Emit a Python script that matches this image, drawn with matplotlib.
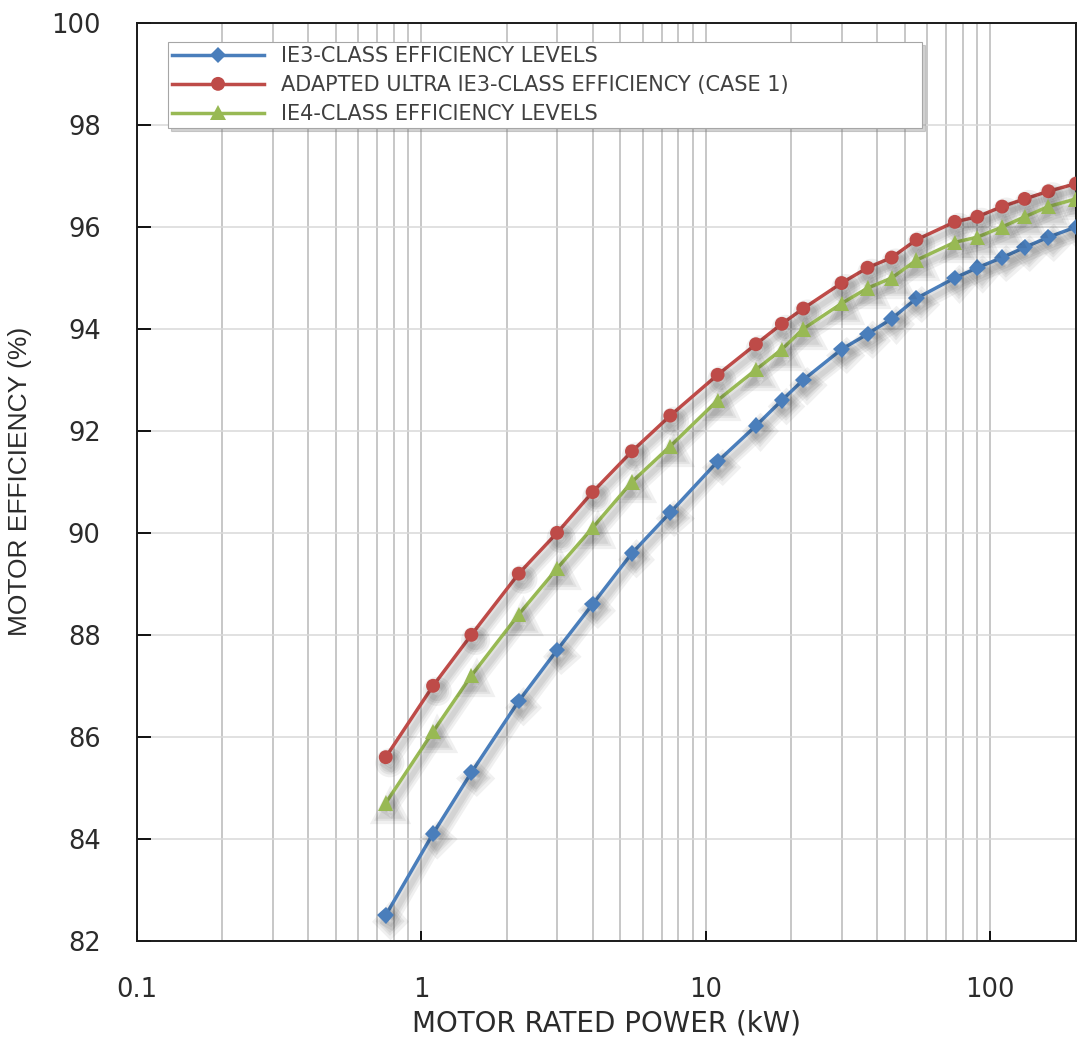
import matplotlib
matplotlib.use("Agg")
import matplotlib.pyplot as plt
import matplotlib.patheffects as pe
from matplotlib.ticker import FixedLocator, LogLocator, NullFormatter

# Standard motor ratings (kW) and full-load efficiencies (%)
power_kw = [0.75, 1.1, 1.5, 2.2, 3, 4, 5.5, 7.5, 11, 15, 18.5, 22, 30, 37,
            45, 55, 75, 90, 110, 132, 160, 200]
ie3_eff = [82.5, 84.1, 85.3, 86.7, 87.7, 88.6, 89.6, 90.4, 91.4, 92.1, 92.6,
           93.0, 93.6, 93.9, 94.2, 94.6, 95.0, 95.2, 95.4, 95.6, 95.8, 96.0]
ultra_ie3_eff = [85.6, 87.0, 88.0, 89.2, 90.0, 90.8, 91.6, 92.3, 93.1, 93.7,
                 94.1, 94.4, 94.9, 95.2, 95.4, 95.75, 96.1, 96.2, 96.4, 96.55,
                 96.7, 96.85]
ie4_eff = [84.7, 86.1, 87.2, 88.4, 89.3, 90.1, 91.0, 91.7, 92.6, 93.2, 93.6,
           94.0, 94.5, 94.8, 95.0, 95.35, 95.7, 95.8, 96.0, 96.2, 96.4, 96.55]

labels = ['IE3-CLASS EFFICIENCY LEVELS',
          'ADAPTED ULTRA IE3-CLASS EFFICIENCY (CASE 1)',
          'IE4-CLASS EFFICIENCY LEVELS']
x_ticks = [0.1, 1, 10, 100]
x_ticklabels = ['0.1', '1', '10', '100']
y_ticks = list(range(82, 101, 2))

plt.rcParams['font.family'] = ['DejaVu Sans']
TEXT = '#2b2b2b'

fig = plt.figure(figsize=(10.81, 10.42), dpi=100)
ax = fig.add_axes([0.1265, 0.0972, 0.8689, 0.8807])

# soft drop shadow under each curve
shadow = [pe.SimpleLineShadow(offset=(3, -4), shadow_color='k', alpha=0.06, linewidth=w)
          for w in (11, 7, 4)] + [pe.Normal()]

styles = [(ie3_eff, '#4a7ebb', 'D', 8.5),
          (ultra_ie3_eff, '#be4b48', 'o', 10),
          (ie4_eff, '#98b954', '^', 11)]
for (eff, color, marker, ms), label in zip(styles, labels):
    ax.plot(power_kw, eff, color=color, lw=2.5, marker=marker, ms=ms,
            markeredgewidth=0, label=label, path_effects=shadow, zorder=3)

ax.set_xscale('log')
ax.set_xlim(0.1, 200)
ax.set_ylim(82, 100)

ax.xaxis.set_major_locator(FixedLocator(x_ticks))
ax.set_xticklabels(x_ticklabels)
ax.xaxis.set_minor_locator(LogLocator(base=10, subs=range(2, 10)))
ax.xaxis.set_minor_formatter(NullFormatter())
ax.set_yticks(y_ticks)

ax.grid(True, which='both', axis='x', color='#b8b8b8', lw=1.1)
ax.grid(True, which='major', axis='y', color='#d9d9d9', lw=1.1)
ax.set_axisbelow(True)

ax.tick_params(axis='both', which='major', direction='in', width=1.3,
               labelsize=18.5, labelcolor=TEXT)
ax.tick_params(axis='x', which='major', length=7, pad=26)
ax.tick_params(axis='x', which='minor', length=0)
ax.tick_params(axis='y', length=10, pad=26)
for s in ax.spines.values():
    s.set_linewidth(1.4)
    s.set_color('#1a1a1a')

ax.set_xlabel('MOTOR RATED POWER (kW)', fontsize=20, color=TEXT, labelpad=5)
ax.set_ylabel('MOTOR EFFICIENCY (%)', fontsize=19, color=TEXT, labelpad=14,
              family=['Liberation Sans', 'DejaVu Sans'])

leg = ax.legend(loc='upper left', bbox_to_anchor=(0.0333, 0.88, 0.8027, 0.0993),
                mode='expand', borderaxespad=0,
                fontsize=15, labelcolor='#404040', frameon=True, fancybox=False,
                edgecolor='#a6a6a6', framealpha=1, borderpad=0.2, labelspacing=0.43,
                handlelength=4.4, handletextpad=0.8,
                shadow={'color': '0.5', 'alpha': 0.35})
leg.get_frame().set_linewidth(0.8)
for h in leg.legend_handles:
    h.set_path_effects([pe.Normal()])

fig.savefig('out.png', dpi=100)
